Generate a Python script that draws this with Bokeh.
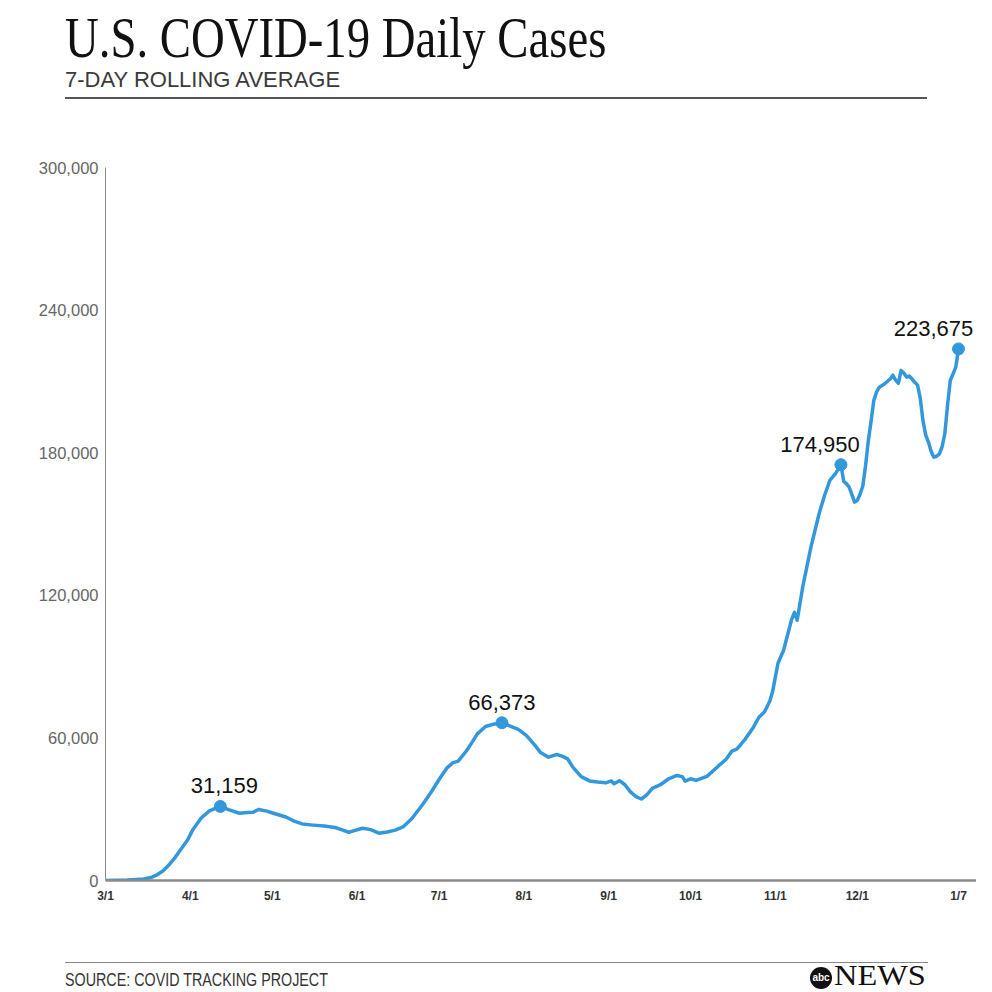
import pandas as pd
from bokeh.plotting import figure
from bokeh.layouts import column
from bokeh.models import (ColumnDataSource, FixedTicker, NumeralTickFormatter, LabelSet,
                          Range1d, Div)
from bokeh.core.properties import value
from bokeh.embed import file_html
from bokeh.resources import INLINE

# ---------------- data ----------------
dates = [
    "2020-03-01", "2020-03-09", "2020-03-15", "2020-03-18", "2020-03-20", "2020-03-22",
    "2020-03-24", "2020-03-26", "2020-03-28", "2020-03-31", "2020-04-02", "2020-04-05",
    "2020-04-08", "2020-04-12", "2020-04-15", "2020-04-19", "2020-04-22", "2020-04-24",
    "2020-04-26", "2020-04-29", "2020-05-02", "2020-05-06", "2020-05-09", "2020-05-12",
    "2020-05-16", "2020-05-20", "2020-05-24", "2020-05-26", "2020-05-29", "2020-05-31",
    "2020-06-03", "2020-06-06", "2020-06-09", "2020-06-12", "2020-06-15", "2020-06-18",
    "2020-06-21", "2020-06-25", "2020-06-28", "2020-07-01", "2020-07-04", "2020-07-06",
    "2020-07-08", "2020-07-11", "2020-07-13", "2020-07-15", "2020-07-18", "2020-07-21",
    "2020-07-23", "2020-07-24", "2020-07-27", "2020-07-30", "2020-08-02", "2020-08-05",
    "2020-08-07", "2020-08-10", "2020-08-13", "2020-08-15", "2020-08-17", "2020-08-19",
    "2020-08-22", "2020-08-25", "2020-08-28", "2020-08-31", "2020-09-02", "2020-09-03",
    "2020-09-05", "2020-09-07", "2020-09-09", "2020-09-11", "2020-09-13", "2020-09-15",
    "2020-09-17", "2020-09-20", "2020-09-23", "2020-09-26", "2020-09-28", "2020-09-29",
    "2020-10-01", "2020-10-03", "2020-10-07", "2020-10-11", "2020-10-14", "2020-10-16",
    "2020-10-18", "2020-10-21", "2020-10-24", "2020-10-26", "2020-10-28", "2020-10-30",
    "2020-10-31", "2020-11-02", "2020-11-04", "2020-11-07", "2020-11-08", "2020-11-09",
    "2020-11-11", "2020-11-14", "2020-11-17", "2020-11-19", "2020-11-21", "2020-11-23",
    "2020-11-25", "2020-11-26", "2020-11-27", "2020-11-28", "2020-11-30", "2020-12-01",
    "2020-12-02", "2020-12-03", "2020-12-04", "2020-12-05", "2020-12-06", "2020-12-07",
    "2020-12-08", "2020-12-09", "2020-12-11", "2020-12-13", "2020-12-14", "2020-12-15",
    "2020-12-16", "2020-12-17", "2020-12-18", "2020-12-19", "2020-12-20", "2020-12-21",
    "2020-12-22", "2020-12-23", "2020-12-24", "2020-12-25", "2020-12-26", "2020-12-27",
    "2020-12-28", "2020-12-29", "2020-12-30", "2020-12-31", "2021-01-01", "2021-01-02",
    "2021-01-03", "2021-01-04", "2021-01-05", "2021-01-06", "2021-01-07",
]
cases = [
    10, 200, 600, 1400, 2500, 4000,
    6300, 9000, 12200, 17000, 21500, 26300,
    29300, 31159, 29800, 28300, 28600, 28700,
    29900, 29200, 28100, 26700, 25000, 23800,
    23300, 22900, 22300, 21500, 20300, 21000,
    22000, 21400, 19900, 20400, 21200, 22700,
    26000, 32000, 37000, 42500, 47500, 49500,
    50200, 54500, 58000, 61700, 64800, 65800,
    65900, 66373, 65000, 63600, 61000, 57000,
    54000, 51900, 53000, 52300, 51200, 47600,
    43700, 41900, 41400, 41100, 41900, 40700,
    42000, 40300, 37300, 35300, 34300, 36000,
    38800, 40300, 42800, 44200, 43700, 41800,
    42800, 42100, 43800, 48000, 51000, 54300,
    55400, 59500, 64500, 68700, 70900, 75500,
    79500, 91500, 96800, 110000, 112800, 109500,
    123400, 140200, 154300, 162000, 168500, 171200,
    174950, 168000, 167000, 165500, 159200, 160000,
    162500, 166000, 174500, 185000, 193000, 201900,
    205500, 207500, 209000, 211000, 212600, 210500,
    209200, 214600, 213500, 211800, 212300, 211000,
    209600, 208500, 203000, 193500, 187500, 184500,
    180500, 178100, 178500, 179500, 182500, 188000,
    200000, 210500, 213100, 216000, 223675,
]

peak_dates = ["2020-04-12", "2020-07-24", "2020-11-25", "2021-01-07"]
peak_values = [31159, 66373, 174950, 223675]
peak_labels = ["31,159", "66,373", "174,950", "223,675"]

tick_dates = ["2020-03-01", "2020-04-01", "2020-05-01", "2020-06-01", "2020-07-01",
              "2020-08-01", "2020-09-01", "2020-10-01", "2020-11-01", "2020-12-01",
              "2021-01-07"]
tick_labels = ["3/1", "4/1", "5/1", "6/1", "7/1", "8/1", "9/1", "10/1", "11/1", "12/1", "1/7"]
y_ticks = [0, 60000, 120000, 180000, 240000, 300000]

title_text = "U.S. COVID-19 Daily Cases"
subtitle_text = "7-DAY ROLLING AVERAGE"
source_text = "SOURCE: COVID TRACKING PROJECT"
logo_mark = "abc"
logo_word = "NEWS"

# ---------------- styles / layout ----------------
W = 976
HEADER_H, MAIN_H, FOOTER_H = 110, 830, 50
LINE_COLOR = "#3398DB"
label_dx = [4, 0, -21, -25]

ABS = "position:absolute;white-space:nowrap;line-height:1;margin:0;padding:0;"

header_html = (
    f'<div style="position:relative;width:{W}px;height:{HEADER_H}px;overflow:visible;">'
    f'<div style="{ABS}left:65px;top:9px;font-family:\'Liberation Serif\';font-size:57px;'
    f'color:#111;transform:scaleX(0.82);transform-origin:left top;">{title_text}</div>'
    f'<div style="{ABS}left:65px;top:69px;font-family:\'Liberation Sans\';font-size:22px;'
    f'color:#3a3a3a;">{subtitle_text}</div>'
    f'<div style="{ABS}left:65px;top:97px;width:862px;height:1.5px;background:#555;"></div>'
    '</div>'
)

footer_html = (
    f'<div style="position:relative;width:{W}px;height:{FOOTER_H}px;overflow:visible;">'
    f'<div style="{ABS}left:65px;top:22px;width:863px;height:1px;background:#888;"></div>'
    f'<div style="{ABS}left:65px;top:31px;font-family:\'Liberation Sans\';font-size:18px;'
    f'color:#333;transform:scaleX(0.795);transform-origin:left top;">{source_text}</div>'
    f'<div style="{ABS}left:810px;top:27px;width:22px;height:22px;border-radius:50%;'
    f'background:#111;color:#fff;font-family:\'Liberation Sans\';font-weight:bold;'
    f'font-size:10px;line-height:22px;text-align:center;">{logo_mark}</div>'
    f'<div style="{ABS}left:834px;top:20px;'
    f'font-family:\'Liberation Serif\';font-size:30px;'
    f'color:#111;transform:scaleX(1.08);transform-origin:left top;">{logo_word}</div>'
    '</div>'
)

hdr = Div(text=header_html, width=W, height=HEADER_H, margin=0)
ftr = Div(text=footer_html, width=W, height=FOOTER_H, margin=0)

# ---------- main chart ----------
src = ColumnDataSource(dict(x=pd.to_datetime(dates), y=cases))
peaks = ColumnDataSource(dict(x=pd.to_datetime(peak_dates), y=peak_values,
                              label=peak_labels, dx=label_dx))

x_start = pd.Timestamp(dates[0])
x_end = pd.Timestamp(dates[-1]) + pd.Timedelta(hours=158)

p = figure(width=W, height=MAIN_H, x_axis_type="datetime", output_backend="svg",
           toolbar_location=None, x_range=Range1d(x_start, x_end),
           y_range=Range1d(0, 300000),
           min_border_left=105, min_border_right=0, min_border_top=57,
           min_border_bottom=60)
p.background_fill_color = "white"
p.border_fill_color = "white"
p.outline_line_color = None
p.grid.visible = False

p.line("x", "y", source=src, line_color=LINE_COLOR, line_width=3.5, line_join="round")
p.scatter("x", "y", source=peaks, size=12, color=LINE_COLOR)
p.add_layout(LabelSet(x="x", y="y", text="label", source=peaks, x_offset="dx", y_offset=13,
                      text_align="center", text_baseline="alphabetic",
                      text_font=value("Liberation Sans"), text_font_size=value("22px"),
                      text_color="#111111"))

tick_ms = [int(pd.Timestamp(d).value // 10**6) for d in tick_dates]
p.xaxis.ticker = FixedTicker(ticks=tick_ms)
p.xaxis.major_label_overrides = {t: l for t, l in zip(tick_ms, tick_labels)}
p.xaxis.axis_line_color = "#8a8a8a"
p.xaxis.axis_line_width = 2.5
p.xaxis.major_tick_line_color = None
p.xaxis.minor_tick_line_color = None
p.xaxis.major_tick_out = 0
p.xaxis.major_tick_in = 0
p.xaxis.major_label_text_font = "Liberation Sans"
p.xaxis.major_label_text_font_style = "bold"
p.xaxis.major_label_text_font_size = "12px"
p.xaxis.major_label_text_color = "#333333"
p.xaxis.major_label_standoff = 8

p.yaxis.ticker = FixedTicker(ticks=y_ticks)
p.yaxis.formatter = NumeralTickFormatter(format="0,0")
p.yaxis.axis_line_color = "#8a8a8a"
p.yaxis.axis_line_width = 1
p.yaxis.major_tick_line_color = None
p.yaxis.minor_tick_line_color = None
p.yaxis.major_tick_out = 0
p.yaxis.major_tick_in = 0
p.yaxis.major_label_text_font = "Liberation Sans"
p.yaxis.major_label_text_font_size = "16.5px"
p.yaxis.major_label_text_color = "#666666"
p.yaxis.major_label_standoff = 7

layout = column(hdr, p, ftr, spacing=0)
open("out.html", "w").write(file_html(layout, INLINE))
